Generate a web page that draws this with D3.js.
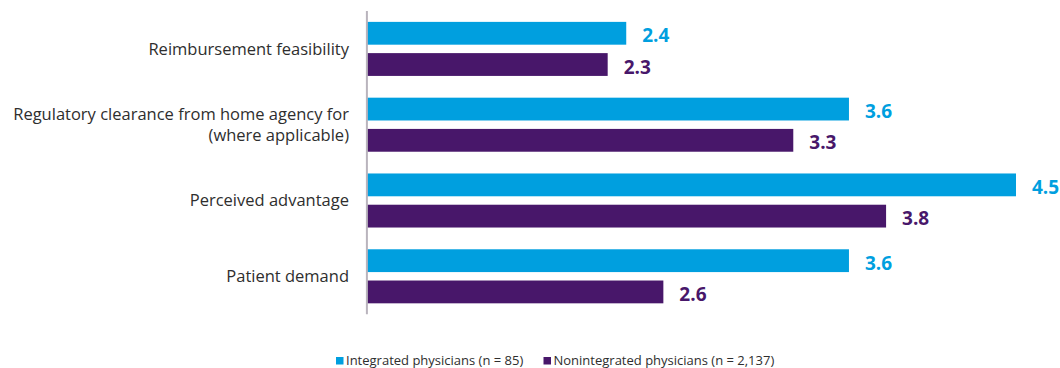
<!DOCTYPE html>
<html>
<head>
<meta charset="utf-8">
<script src="https://cdn.jsdelivr.net/npm/d3@7"></script>
<style>
  html, body { margin: 0; padding: 0; background: #ffffff; }
  svg { display: block; }
</style>
</head>
<body>
<svg id="chart" width="1060" height="368"></svg>
<script>
// Mean ratings (1–5 scale) by factor for the two physician groups
const categories = [
  ["Reimbursement feasibility"],
  ["Regulatory clearance from home agency for", "(where applicable)"],
  ["Perceived advantage"],
  ["Patient demand"]
];
const seriesNames = ["Integrated physicians (n = 85)", "Nonintegrated physicians (n = 2,137)"];
const integrated = [2.4, 3.6, 4.5, 3.6];
const nonintegrated = [2.3, 3.3, 3.8, 2.6];
const colors = ["#009fdf", "#48176a"];

const svg = d3.select("#chart");
const keys = categories.map((c, i) => i);

const x = d3.scaleLinear().domain([1, 5]).range([366.4, 1108.8]);
const y = d3.scaleBand().domain(keys).range([11, 314.2]).paddingInner(0.287).paddingOuter(0.1435);
const ySub = d3.scaleBand().domain([0, 1]).range([0, y.bandwidth()]).paddingInner(0.27);

const rows = keys.map(i => [integrated[i], nonintegrated[i]]);

const groups = svg.append("g").selectAll("g")
  .data(rows)
  .join("g")
  .attr("transform", (d, i) => `translate(0,${y(i)})`);

groups.selectAll("rect")
  .data(d => d)
  .join("rect")
  .attr("x", x(1))
  .attr("y", (d, j) => ySub(j))
  .attr("width", d => x(d) - x(1))
  .attr("height", ySub.bandwidth())
  .attr("fill", (d, j) => colors[j]);

groups.selectAll("text.val")
  .data(d => d)
  .join("text")
  .attr("class", "val")
  .attr("x", d => x(d) + 16)
  .attr("y", (d, j) => ySub(j) + ySub.bandwidth() / 2 + 9)
  .attr("fill", (d, j) => colors[j])
  .style("font-family", "'Open Sans', sans-serif")
  .style("font-weight", "700")
  .style("font-size", "19px")
  .text(d => d.toFixed(1));

// Category labels, right-aligned to the left of the axis
const labels = svg.append("g")
  .style("font-family", "'Open Sans', sans-serif")
  .style("font-size", "16.5px")
  .attr("fill", "#2e2e2e")
  .attr("text-anchor", "end");

categories.forEach((lines, i) => {
  const cy = y(i) + y.bandwidth() / 2;
  const lh = 21;
  const t = labels.append("text").attr("x", 349).attr("y", cy);
  lines.forEach((ln, k) => {
    t.append("tspan")
      .attr("x", 349)
      .attr("y", cy + (k - (lines.length - 1) / 2) * lh)
      .attr("dy", "0.35em")
      .text(ln);
  });
});

// Vertical baseline axis
const [r0, r1] = y.range();
svg.append("line")
  .attr("x1", x(1) + 0.5).attr("x2", x(1) + 0.5)
  .attr("y1", r0).attr("y2", r1)
  .attr("stroke", "#b9b4bd")
  .attr("stroke-width", 2);

// Legend
const legendItems = [
  { name: seriesNames[0], color: colors[0], x: 336 },
  { name: seriesNames[1], color: colors[1], x: 543.5 }
];
const legend = svg.append("g")
  .style("font-family", "'Open Sans', sans-serif")
  .style("font-size", "13px")
  .attr("fill", "#2e2e2e");
legendItems.forEach(it => {
  legend.append("rect")
    .attr("x", it.x).attr("y", 357)
    .attr("width", 7.5).attr("height", 7.5)
    .attr("fill", it.color);
  legend.append("text")
    .attr("x", it.x + 10).attr("y", 364.5)
    .text(it.name);
});
</script>
</body>
</html>
